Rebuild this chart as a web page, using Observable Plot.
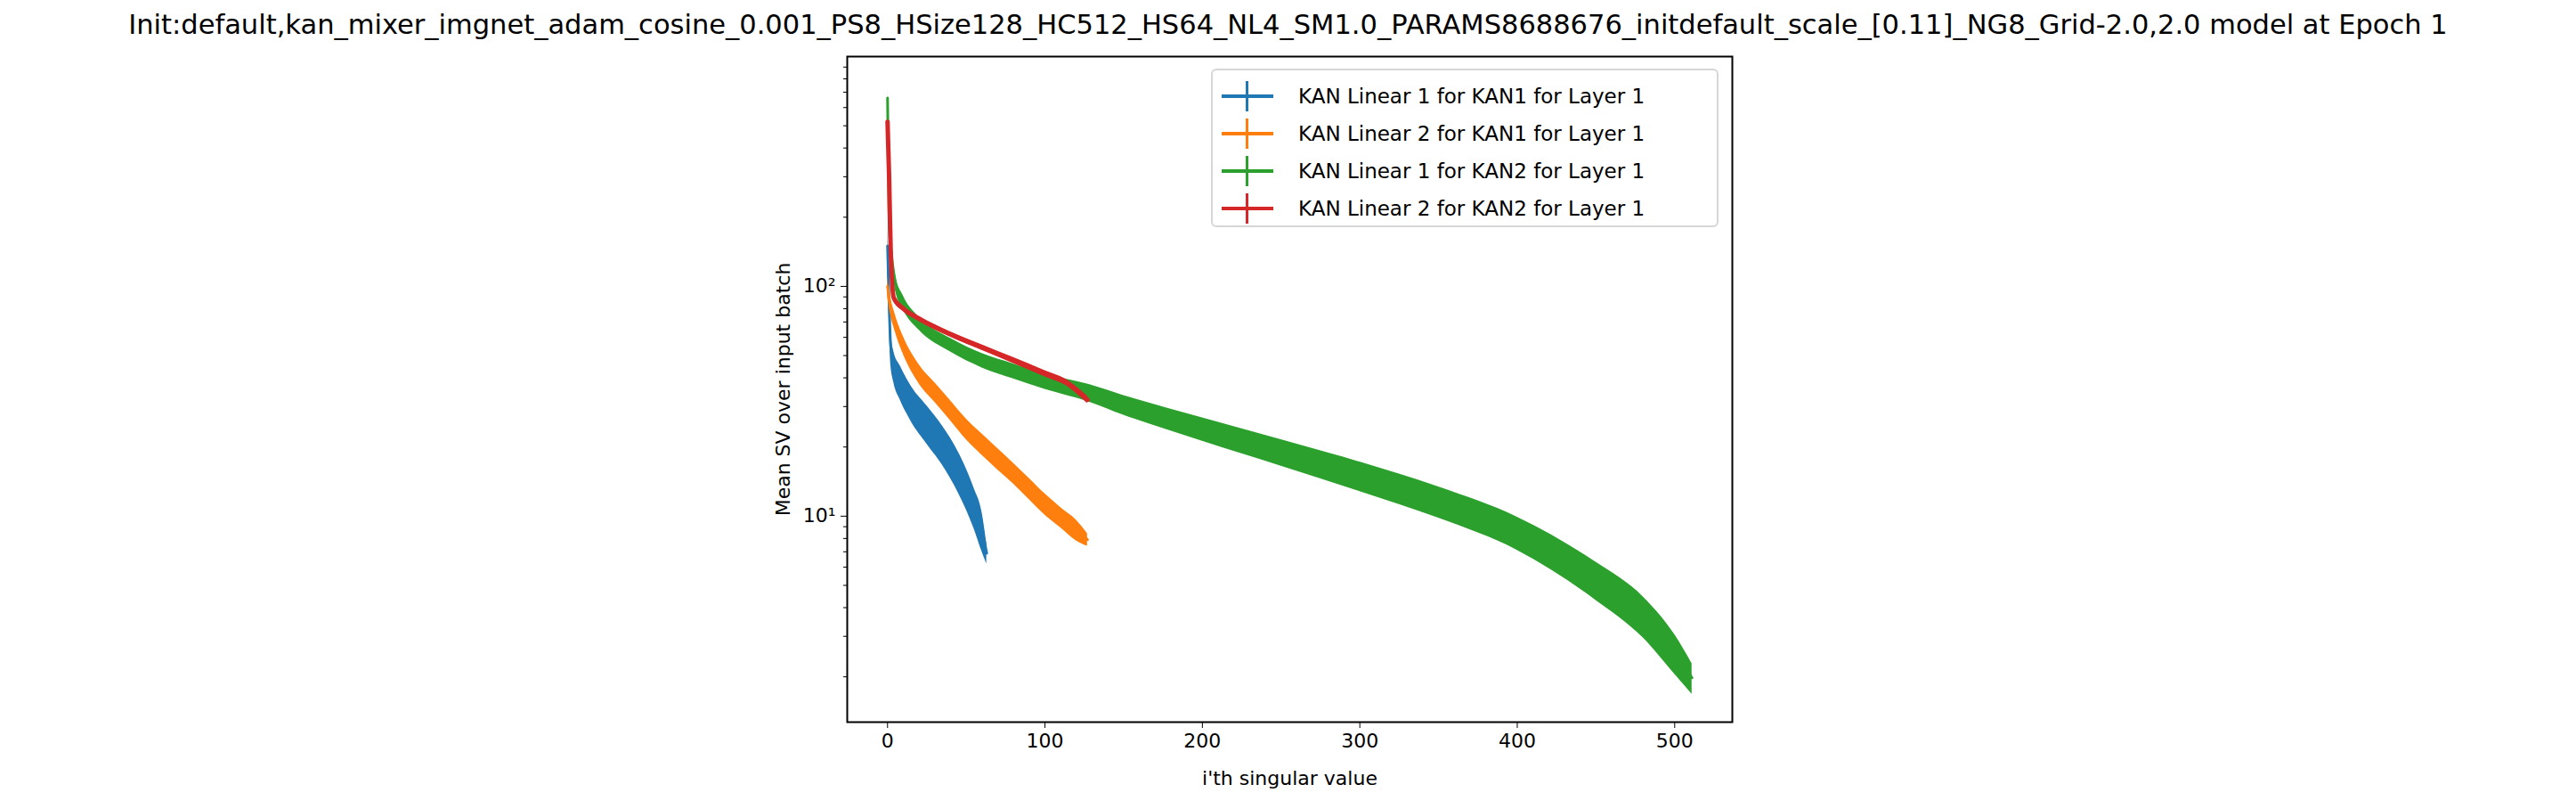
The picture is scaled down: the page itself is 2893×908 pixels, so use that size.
<!DOCTYPE html>
<html><head><meta charset="utf-8">
<script src="https://cdn.jsdelivr.net/npm/d3@7"></script>
<script src="https://cdn.jsdelivr.net/npm/@observablehq/plot@0.6"></script>
<style>
body{margin:0;background:#fff;font-family:"DejaVu Sans",sans-serif}
#wrap{position:relative;width:2893px;height:908px}
#title{position:absolute;top:10px;left:0;width:2893px;text-align:center;font-size:30.5px;white-space:nowrap}
#legend{position:absolute;left:1360px;top:77px;width:566px;height:174px;border:2px solid #d6d6d6;border-radius:6px;background:rgba(255,255,255,0.8);font-size:23px}
.row{position:absolute;left:10px;height:42px;display:flex;align-items:center}
.sw{position:relative;width:58px;height:42px;margin-right:28px}
.sw .h{position:absolute;left:0;top:19px;width:58px;height:4px}
.sw .v{position:absolute;left:27px;top:4px;width:3px;height:34px}
</style></head><body>
<div id="wrap"><div id="chart"></div>
<div id="title">Init:default,kan_mixer_imgnet_adam_cosine_0.001_PS8_HSize128_HC512_HS64_NL4_SM1.0_PARAMS8688676_initdefault_scale_[0.11]_NG8_Grid-2.0,2.0 model at Epoch 1</div>
<div id="legend"></div></div>
<script>
const labels = ["KAN Linear 1 for KAN1 for Layer 1", "KAN Linear 2 for KAN1 for Layer 1", "KAN Linear 1 for KAN2 for Layer 1", "KAN Linear 2 for KAN2 for Layer 1"];
const colors = ["#1f77b4", "#ff7f0e", "#2ca02c", "#d62728"];

// sampled index, mean SV, std
const blueI = [0, 1, 2, 4, 8, 15, 25, 35, 45, 55, 60, 63];
const blueV = [150, 84, 55, 45, 38.6, 31.3, 25.4, 20.6, 15.8, 11.0, 8.7, 6.9];
const blueE = [30, 12, 9, 7, 6.5, 5.5, 4.8, 4.0, 3.2, 2.2, 1.7, 0.7];

const orangeI = [0, 1, 5, 10, 20, 30, 40, 50, 60, 70, 80, 90, 100, 110, 120, 127];
const orangeV = [100, 89, 69, 55.6, 41.7, 34.7, 28.9, 24.0, 20.6, 17.8, 15.4, 13.2, 11.3, 9.9, 8.7, 7.9];
const orangeE = [10, 8, 6, 5, 4, 3.4, 2.9, 2.5, 2.2, 1.9, 1.6, 1.4, 1.2, 1.0, 0.9, 0.5];

const greenI = [0, 1, 2, 5, 10, 20, 40, 60, 80, 100, 128, 150, 200, 250, 300, 350, 400, 450, 480, 500, 511];
const greenV = [660, 185, 150, 104, 85, 69, 55.6, 47.6, 42.8, 38.6, 34.4, 30.5, 24.0, 19.0, 15.0, 11.6, 8.5, 5.3, 3.7, 2.55, 1.98];
const greenE = [70, 15, 12, 8, 6, 4.5, 3.8, 3.4, 3.2, 3.0, 3.0, 3.0, 2.8, 2.5, 2.2, 1.8, 1.4, 1.0, 0.75, 0.5, 0.3];

const redI = [0, 1, 2, 4, 10, 20, 40, 60, 80, 100, 115, 127];
const redV = [520, 300, 143, 89, 80, 72.3, 61.8, 54.2, 47.6, 41.7, 37.6, 32.1];
const redE = [20, 15, 8, 3, 2, 1.8, 1.6, 1.5, 1.4, 1.3, 1.2, 1.2];

const series = [[blueI, blueV, blueE], [orangeI, orangeV, orangeE], [greenI, greenV, greenE], [redI, redV, redE]];
const data = series.flatMap(([I, V, E], s) => I.map((i, k) => ({s, i, v: V[k], lo: V[k] - E[k], hi: V[k] + E[k]})));

const minors = [2,3,4,5,6,7,8,9,20,30,40,50,60,70,80,90,200,300,400,500,600,700,800,900];
const sup = {1: "¹", 2: "²", 3: "³"};

const marks = [];
for (const s of [0, 1, 2, 3]) {
  const d = data.filter(r => r.s === s);
  marks.push(Plot.areaY(d, {x: "i", y1: "lo", y2: "hi", fill: colors[s], curve: "monotone-x"}));
  marks.push(Plot.line(d, {x: "i", y: "v", stroke: colors[s], strokeWidth: s === 3 ? 5 : 3, curve: "monotone-x"}));
}

const plot = Plot.plot({
  width: 2893, height: 908,
  marginTop: 63, marginBottom: 98, marginLeft: 951, marginRight: 948,
  style: {fontFamily: "DejaVu Sans, sans-serif", fontSize: "22px", color: "#000"},
  x: {domain: [-25.6, 536.6]},
  y: {type: "log", domain: [1.27, 1000]},
  marks: [
    ...marks,
    Plot.axisX({ticks: [0, 100, 200, 300, 400, 500], tickSize: 7, tickPadding: 6, label: "i'th singular value", labelAnchor: "center", labelArrow: "none", labelOffset: 70, tickFormat: d3.format("d")}),
    Plot.axisY({ticks: [10, 100], tickSize: 7, tickPadding: 6, tickFormat: d => "10" + sup[Math.round(Math.log10(d))], label: "Mean SV over input batch", labelAnchor: "center", labelArrow: "none", labelOffset: 80}),
    Plot.axisY({ticks: minors, tickSize: 4, tickFormat: () => "", label: null}),
    Plot.frame({stroke: "#000", strokeWidth: 2})
  ]
});
document.getElementById("chart").append(plot);

const leg = document.getElementById("legend");
labels.forEach((t, s) => {
  const r = document.createElement("div");
  r.className = "row";
  r.style.top = (8 + s * 42) + "px";
  r.innerHTML = `<div class="sw"><div class="h" style="background:${colors[s]}"></div><div class="v" style="background:${colors[s]}"></div></div><span>${t}</span>`;
  leg.append(r);
});
</script></body></html>
